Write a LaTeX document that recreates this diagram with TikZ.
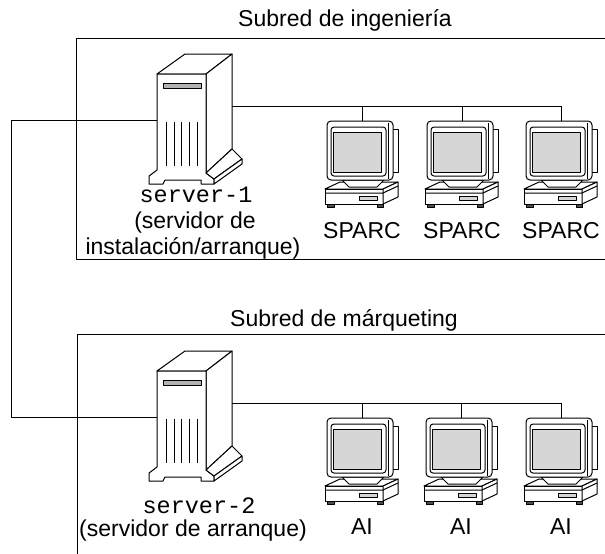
\documentclass[tikz,border=0pt]{standalone}
\usepackage{fontspec}
\setmainfont{Liberation Sans}
\setmonofont{Liberation Mono}
\tikzset{
  ln/.style={line width=1pt, line join=round},
  txt/.style={font=\fontsize{23}{26}\selectfont, inner sep=0pt, anchor=base},
  mono/.style={font=\fontsize{23.5}{26}\selectfont\ttfamily, inner sep=0pt, anchor=base},
  scr/.style={fill=black!16},
  slotfill/.style={fill=black!30},
  server/.pic={
    % right side and top
    \draw[ln, fill=white] (0,0) -- (28,-20) -- (75,-20) -- (49,0) -- cycle;
    \draw[ln, fill=white] (49,0) -- (75,-20) -- (75,75) -- (49,99) -- cycle;
    % front face with foot
    \draw[ln, fill=white] (0,0) -- (49,0) -- (49,99) -- (57,105) -- (57,110) -- (44,110) -- (44,106)
        -- (8,106) -- (6,110) -- (-8,110) -- (-8,102) -- (0,96) -- cycle;
    % slab
    \draw[ln, fill=white] (49,99) -- (75,75) -- (85,85) -- (57,105) -- cycle;
    \draw[ln, fill=white] (57,105) -- (85,85) -- (85,90) -- (57,110) -- cycle;
    % display slot
    \draw[ln, slotfill] (6,9) rectangle (44,14);
    % vents
    \foreach \vx in {9,17,24,32,40} { \draw[ln] (\vx,48) -- (\vx,92); }
    \coordinate (-L) at (0,46);
    \coordinate (-R) at (75,32);
  },
  computer/.pic={
    % base unit
    \draw[ln, fill=white] (-37,68) -- (-22,61) -- (36,61) -- (21,68) -- cycle;
    \draw[ln, fill=white] (-37,68) rectangle (21,83);
    \draw[ln, fill=white] (21,68) -- (36,61) -- (36,76) -- (21,83) -- cycle;
    \draw[ln] (-37,72) -- (21,72) -- (36,65);
    \draw[ln, scr] (-3,75) rectangle (15,79);
    \draw[ln, fill=black!70] (-35,83) rectangle (-28,86);
    \draw[ln, fill=black!70] (15,83) rectangle (21,86);
    % neck
    \draw[ln, fill=white] (-20,59) -- (22,59) -- (15,66) -- (-13,66) -- cycle;
    % monitor
    \draw[ln, fill=white] (30,8) rectangle (36,51);
    \draw[ln, fill=white, rounded corners=4] (-35,0) rectangle (31,59);
    \draw[ln] (26,1.5) -- (26,57.5);
    \draw[ln, rounded corners=3] (-31,6) rectangle (24,55);
    \draw[ln, scr] (-29,11) rectangle (19,51);
    \coordinate (-T) at (0,0);
  }
}
\begin{document}
\begin{tikzpicture}[x=1pt, y=-1pt]
  \useasboundingbox (0,0) rectangle (605,554);
  % subnet frames
  \draw[ln] (607,38) -- (76,38) -- (76,259) -- (607,259);
  \draw[ln] (607,334) -- (77,334) -- (77,556);
  % titles
  \node[txt] (t1) at (345,26) {Subred de ingeniería};
  \node[txt] (t2) at (344,326) {Subred de márqueting};
  % devices
  \pic (srv1) at (157,74) {server};
  \pic (srv2) at (157,371) {server};
  \pic (pa) at (362,121) {computer};
  \pic (pb) at (462,121) {computer};
  \pic (pc) at (561,121) {computer};
  \pic (qa) at (362,418) {computer};
  \pic (qb) at (461,418) {computer};
  \pic (qc) at (561,418) {computer};
  % connectors
  \coordinate (corner) at (11.5,120);
  \draw[ln] (srv1-L) -- (corner) |- (srv2-L);
  \draw[ln] (srv1-R) -- (pc-T |- srv1-R);
  \foreach \p in {pa,pb,pc} { \draw[ln] (\p-T) -- (\p-T |- srv1-R); }
  \draw[ln] (srv2-R) -- (qc-T |- srv2-R);
  \foreach \p in {qa,qb,qc} { \draw[ln] (\p-T) -- (\p-T |- srv2-R); }
  % labels
  \node[mono] (n1) at (196,202) {server-1};
  \node[txt] (d1a) at (195,228) {(servidor de};
  \node[txt] (d1b) at (193,254) {instalación/arranque)};
  \node[mono] (n2) at (199,513) {server-2};
  \node[txt] (d2) at (193,536) {(servidor de arranque)};
  \node[txt] (la) at (362,238) {SPARC};
  \node[txt] (lb) at (462,238) {SPARC};
  \node[txt] (lc) at (561,238) {SPARC};
  \node[txt] (ma) at (362,534) {AI};
  \node[txt] (mb) at (461,534) {AI};
  \node[txt] (mc) at (561,534) {AI};
\end{tikzpicture}
\end{document}
